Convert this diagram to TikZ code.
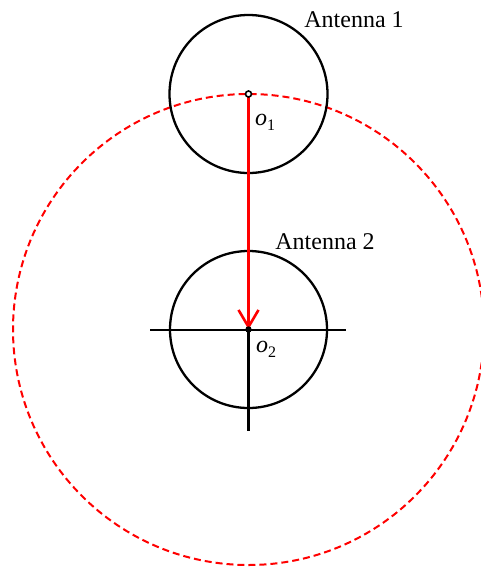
\documentclass[tikz,border=0pt]{standalone}
\usepackage{fontspec}
\setmainfont{Liberation Serif}
\usetikzlibrary{arrows.meta, positioning}

\newcommand{\ocentre}[1]{{\itshape o}\raisebox{-5pt}{\fontsize{16}{18}\selectfont #1}}

\begin{document}
\begin{tikzpicture}[x=1pt, y=-1pt,
    antenna/.style={black, line width=2.3pt},
    lbl/.style={font=\fontsize{24}{28}\selectfont, inner sep=0pt},
    sublbl/.style={font=\fontsize{24}{28}\selectfont, inner sep=0pt}]
    \useasboundingbox (0,0) rectangle (480,570);

    % Centres of the two antennas
    \coordinate (O1) at (248.5, 94);
    \coordinate (O2) at (248.5, 329.5);

    % Range circle around antenna 2
    \draw[red, line width=2pt, dash pattern=on 7pt off 4pt] (O2) circle (235.5);

    % Antenna 1
    \draw[antenna] (O1) circle (79);
    \node[lbl] (ant1) at (354, 20) {Antenna 1};
    \node[sublbl] (o1) at (265, 122) {\ocentre{1}};

    % Antenna 2 with crosshair
    \draw[antenna] (O2) circle (78.5);
    \coordinate (hl) at (150, 329.5);
    \coordinate (hr) at (346, 329.5);
    \coordinate (vt) at (248.5, 235);
    \coordinate (vb) at (248.5, 431);
    \draw[black, line width=2pt] (hl) -- (hr);
    \draw[black, line width=2.5pt] (vt) -- (vb);
    \node[lbl] (ant2) at (325, 242) {Antenna 2};
    \node[sublbl] (o2) at (266, 349) {\ocentre{2}};

    % Baseline from o1 to o2
    \draw[red, line width=2.6pt, -{Straight Barb[length=17pt, width=20pt, line width=2.6pt]}] (O1) -- (O2);

    % Phase centres
    \draw[black, line width=1.6pt, fill=white] (O1) circle (3);
    \fill[black] (O2) circle (3.2);
\end{tikzpicture}
\end{document}
